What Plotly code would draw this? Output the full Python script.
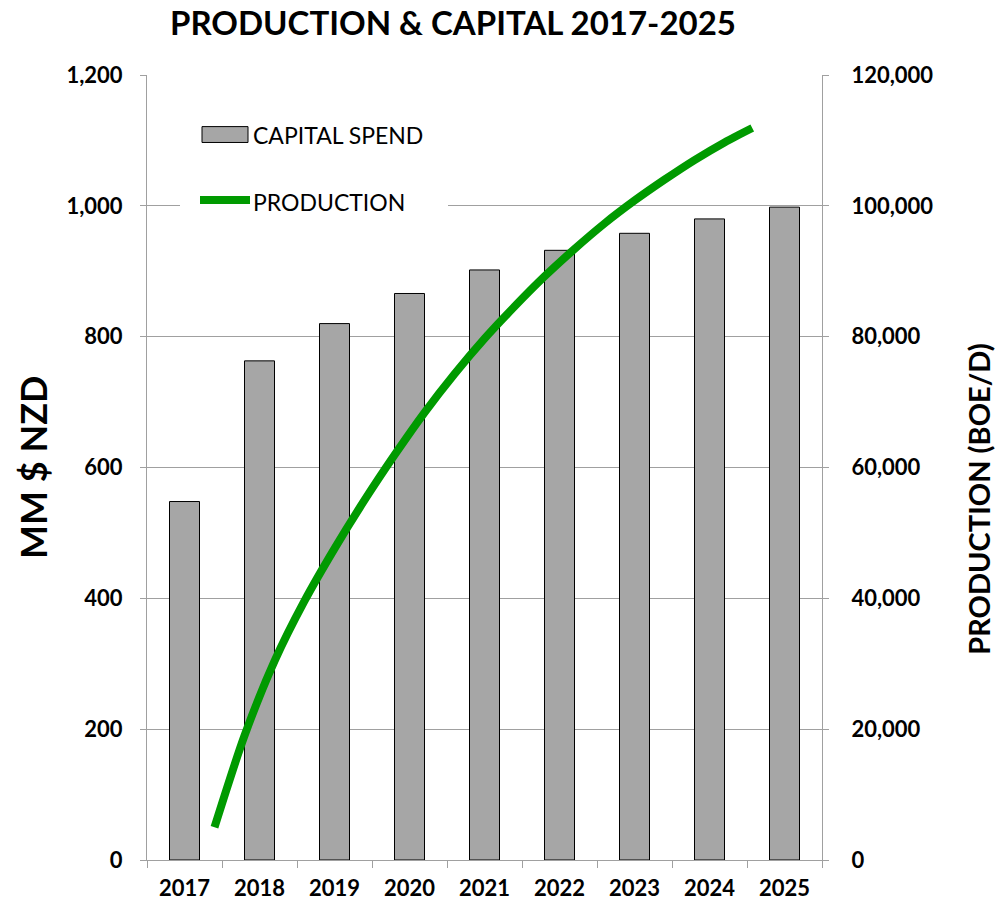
import plotly.graph_objects as go

# ---- data ----
years = [2017, 2018, 2019, 2020, 2021, 2022, 2023, 2024, 2025]
year_labels = ["2017", "2018", "2019", "2020", "2021", "2022", "2023", "2024", "2025"]
capital_spend = [548, 763, 820, 866, 902, 932, 958, 980, 998]

prod_x = [2017.4, 2017.8, 2018.2, 2018.6, 2019.0, 2019.4, 2019.8, 2020.2, 2020.6,
          2021.0, 2021.4, 2021.8, 2022.2, 2022.6, 2023.0, 2023.4, 2023.8, 2024.2, 2024.57]
production = [5000, 19000, 30400, 39600, 47600, 55000, 61900, 68400, 74300,
              79700, 84600, 89200, 93400, 97300, 100800, 104000, 107000, 109700, 111900]

left_ticks = [0, 200, 400, 600, 800, 1000, 1200]
right_ticks = [0, 20000, 40000, 60000, 80000, 100000, 120000]

FONT = "Lato, Open Sans, Arial, sans-serif"
GREEN = "#009a00"
BAR = "#a6a6a6"
GRID = "#a0a0a0"

W, H = 995, 913
L, R, T, B = 147, 822, 75, 866


def px(xp):
    return (xp - L) / (R - L)


def py(yp):
    return (B - yp) / (B - T)


fig = go.Figure()
fig.add_trace(go.Bar(x=years, y=capital_spend, width=0.4, name="CAPITAL SPEND",
                     marker=dict(color=BAR, line=dict(color="black", width=1)),
                     showlegend=False))
fig.add_trace(go.Scatter(x=prod_x, y=production, yaxis="y2", mode="lines",
                         line=dict(color=GREEN, width=8, shape="spline", smoothing=0.8),
                         name="PRODUCTION", showlegend=False))

tickfont = dict(family=FONT, size=22, color="black")

fig.update_layout(
    width=W, height=H,
    margin=dict(l=L, r=W - R, t=T, b=H - B),
    plot_bgcolor="white", paper_bgcolor="white",
    title=dict(text="<b>PRODUCTION & CAPITAL 2017-2025</b>", x=453 / W, xanchor="center",
               y=1 - 23 / H, yanchor="middle", font=dict(family=FONT, size=33, color="black")),
    xaxis=dict(range=[2016.5, 2025.5], tickvals=years, ticktext=[f"<b>{t}</b>" for t in year_labels],
               ticks="", showgrid=False, showline=True, linecolor=GRID, linewidth=1,
               tickfont=tickfont, ticklabelstandoff=9,
               minor=dict(tick0=2016.5, dtick=1, ticks="outside", ticklen=7, tickcolor=GRID,
                          showgrid=False),
               zeroline=False),
    yaxis=dict(range=[0, 1200], tickvals=left_ticks,
               ticktext=[f"<b>{v:,}</b>" for v in left_ticks],
               showgrid=True, gridcolor=GRID, gridwidth=1, zeroline=False,
               showline=True, linecolor=GRID, ticks="outside", ticklen=6, tickcolor=GRID,
               tickfont=tickfont, ticklabelstandoff=13),
    yaxis2=dict(range=[0, 120000], tickvals=right_ticks,
                ticktext=[f"<b>{v:,}</b>" for v in right_ticks],
                overlaying="y", side="right", showgrid=False, zeroline=False,
                showline=True, linecolor=GRID, ticks="outside", ticklen=6, tickcolor=GRID,
                tickfont=tickfont, ticklabelstandoff=18),
    showlegend=False,
)

# axis titles
fig.add_annotation(xref="paper", yref="paper", x=px(33), y=py(471), text="<b>MM $ NZD</b>",
                   textangle=-90, showarrow=False, font=dict(family=FONT, size=36, color="black"),
                   xanchor="center", yanchor="middle")
fig.add_annotation(xref="paper", yref="paper", x=px(979), y=py(502), text="<b>PRODUCTION (BOE/D)</b>",
                   textangle=-90, showarrow=False, font=dict(family=FONT, size=29, color="black"),
                   xanchor="center", yanchor="middle")

# custom legend
fig.add_shape(type="rect", xref="paper", yref="paper", x0=px(180), x1=px(448), y0=py(222), y1=py(110),
              fillcolor="white", line=dict(width=0), layer="above")
fig.add_shape(type="rect", xref="paper", yref="paper", x0=px(202), x1=px(248), y0=py(143), y1=py(127),
              fillcolor=BAR, line=dict(color="black", width=1), layer="above")
fig.add_shape(type="line", xref="paper", yref="paper", x0=px(200), x1=px(250), y0=py(201), y1=py(201),
              line=dict(color=GREEN, width=8), layer="above")
fig.add_annotation(xref="paper", yref="paper", x=px(251), y=py(135), text="CAPITAL SPEND",
                   showarrow=False, xanchor="left", yanchor="middle",
                   font=dict(family=FONT, size=23, color="black"))
fig.add_annotation(xref="paper", yref="paper", x=px(251), y=py(203), text="PRODUCTION",
                   showarrow=False, xanchor="left", yanchor="middle",
                   font=dict(family=FONT, size=23, color="black"))

fig.write_html("out.html")
